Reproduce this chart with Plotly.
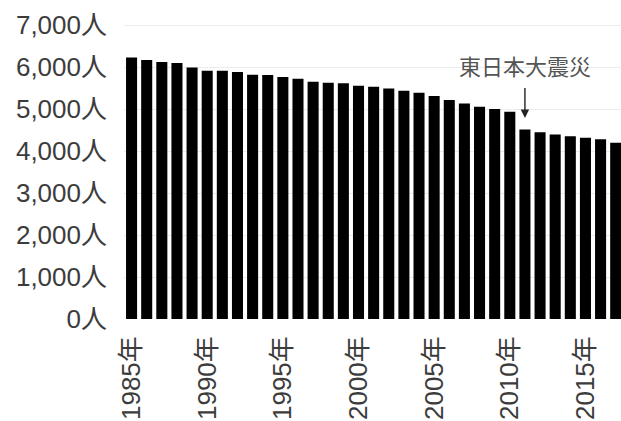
import plotly.graph_objects as go

years = list(range(1985, 2018))
values = [6230, 6170, 6120, 6095, 5990, 5915, 5910, 5880, 5820, 5810,
          5765, 5720, 5650, 5625, 5615, 5555, 5530, 5490, 5435, 5390,
          5310, 5215, 5135, 5055, 5000, 4935, 4515, 4445, 4395, 4355,
          4315, 4280, 4200]
x_tick_vals = [1985, 1990, 1995, 2000, 2005, 2010, 2015]
x_tick_text = [f"{y}年" for y in x_tick_vals]
y_tick_vals = [0, 1000, 2000, 3000, 4000, 5000, 6000, 7000]
y_tick_text = [f"{v:,}人" for v in y_tick_vals]
event_year = 2011
event_label = "東日本大震災"

FONT = "Liberation Sans, Arial, Noto Sans CJK JP, sans-serif"

fig = go.Figure(go.Bar(x=years, y=values, marker=dict(color="black", line=dict(width=0))))

fig.add_annotation(x=event_year, y=6000, text=event_label, showarrow=False,
                   font=dict(size=22, color="#555", family=FONT), yanchor="middle")
fig.add_annotation(x=event_year, y=4790, ax=event_year, ay=5540, axref="x", ayref="y",
                   text="", showarrow=True, arrowhead=2, arrowsize=1.2, arrowwidth=1.4,
                   arrowcolor="#222")

fig.update_layout(
    width=621, height=421,
    margin=dict(l=124, r=0, t=23, b=102),
    paper_bgcolor="white", plot_bgcolor="white",
    bargap=0.27, showlegend=False,
    font=dict(family=FONT, size=26, color="#3c3c3c"),
)
fig.update_xaxes(range=[1984.5, 2017.35], tickvals=x_tick_vals, ticktext=x_tick_text,
                 tickangle=-90, showgrid=False, zeroline=False, showline=False,
                 ticks="", ticklabelstandoff=11, tickfont=dict(size=26, color="#3c3c3c"))
fig.update_yaxes(range=[0, 7050], tickvals=y_tick_vals, ticktext=y_tick_text,
                 showgrid=True, gridcolor="#ececec", gridwidth=1, zeroline=False,
                 showline=False, ticks="", ticklabelstandoff=16,
                 tickfont=dict(size=26, color="#3c3c3c"))

fig.write_html("out.html")
